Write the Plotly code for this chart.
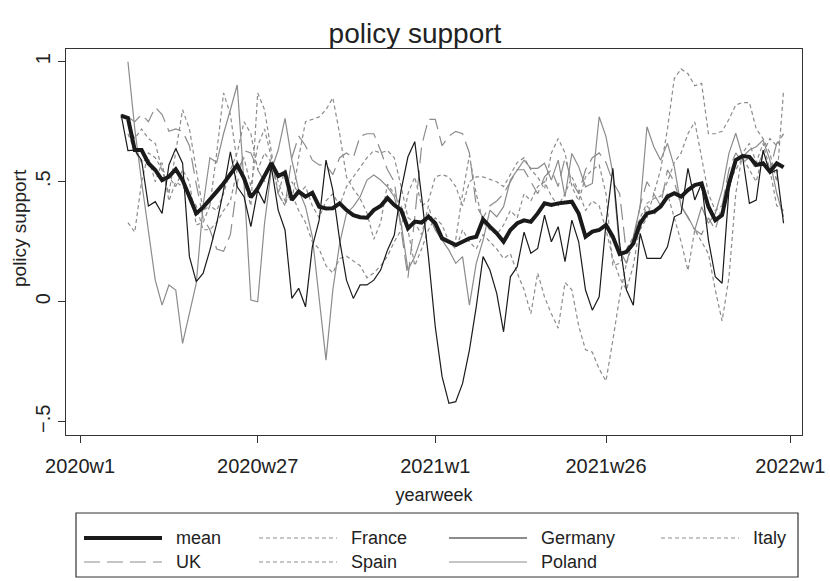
import plotly.graph_objects as go

# Stata weekly offsets from 2020w1 (6 = 2020w7 ... 103 = 2021w52)
week_index = list(range(6, 104))
x_tick_vals = [0, 26, 52, 77, 104]
x_tick_text = ["2020w1", "2020w27", "2021w1", "2021w26", "2022w1"]
y_tick_vals = [-0.5, 0, 0.5, 1]
y_tick_text = ["\u2212.5", "0", ".5", "1"]

mean = [0.775, 0.765, 0.632, 0.632, 0.577, 0.549, 0.507, 0.521, 0.552, 0.507,
        0.438, 0.368, 0.393, 0.424, 0.459, 0.493, 0.535, 0.570, 0.514, 0.435,
        0.472, 0.521, 0.577, 0.524, 0.538, 0.424, 0.459, 0.438, 0.454, 0.396,
        0.389, 0.390, 0.410, 0.382, 0.361, 0.352, 0.350, 0.382, 0.399, 0.432,
        0.403, 0.382, 0.306, 0.334, 0.330, 0.354, 0.327, 0.264, 0.250, 0.236,
        0.250, 0.264, 0.271, 0.343, 0.313, 0.285, 0.250, 0.299, 0.327, 0.339,
        0.333, 0.368, 0.410, 0.403, 0.410, 0.414, 0.417, 0.368, 0.271, 0.292,
        0.299, 0.320, 0.271, 0.199, 0.208, 0.243, 0.327, 0.368, 0.375, 0.396,
        0.438, 0.452, 0.438, 0.465, 0.486, 0.493, 0.396, 0.340, 0.361, 0.493,
        0.590, 0.607, 0.604, 0.570, 0.577, 0.542, 0.577, 0.560]

france = [None, 0.33, 0.29, 0.50, 0.62, 0.60, 0.55, 0.45, 0.62, 0.80,
          0.72, 0.55, 0.38, 0.40, 0.62, 0.87, 0.78, 0.58, 0.50, 0.40,
          0.87, 0.80, 0.62, 0.45, 0.55, 0.42, 0.60, 0.75, 0.76, 0.77,
          0.80, 0.85, 0.70, 0.52, 0.47, 0.43, 0.37, 0.26, 0.33, 0.49,
          0.45, 0.40, 0.30, 0.15, 0.22, 0.30, 0.35, 0.32, 0.25, 0.22,
          0.30, 0.25, 0.22, 0.28, 0.25, 0.22, 0.18, 0.20, 0.12, 0.05,
          -0.05, 0.12, 0.02, -0.05, -0.11, 0.08, 0.05, -0.10, -0.20, -0.21,
          -0.28, -0.33, -0.16, 0.02, 0.16, 0.25, 0.30, 0.35, 0.45, 0.55,
          0.72, 0.93, 0.97, 0.95, 0.90, 0.91, 0.70, 0.70, 0.71, 0.76,
          0.82, 0.83, 0.83, 0.72, 0.68, 0.62, 0.50, 0.88]

germany = [0.78, 0.63, 0.632, 0.590, 0.399, 0.417, 0.368, 0.570, 0.639, 0.577,
           0.188, 0.084, 0.118, 0.215, 0.327, 0.465, 0.625, 0.479, 0.438, 0.313,
           0.465, 0.410, 0.563, 0.382, 0.299, 0.014, 0.056, -0.021, 0.229, 0.340,
           0.590, 0.465, 0.257, 0.090, 0.014, 0.070, 0.070, 0.090, 0.132, 0.215,
           0.278, 0.465, 0.604, 0.667, 0.438, 0.188, -0.104, -0.312, -0.423, -0.416,
           -0.340, -0.201, -0.021, 0.188, 0.132, 0.035, -0.125, 0.104, 0.146, 0.290,
           0.202, 0.222, 0.361, 0.250, 0.313, 0.167, 0.340, 0.250, 0.049, -0.035,
           0.021, 0.327, 0.556, 0.243, 0.049, -0.014, 0.285, 0.181, 0.181, 0.181,
           0.229, 0.354, 0.368, 0.556, 0.424, 0.493, 0.257, 0.104, 0.077, 0.465,
           0.590, 0.604, 0.410, 0.424, 0.632, 0.535, 0.549, 0.327]

italy = [None, 0.75, 0.68, 0.72, 0.68, 0.66, 0.55, 0.52, 0.48, 0.55,
         0.50, 0.32, 0.33, 0.40, 0.38, 0.45, 0.55, 0.62, 0.75, 0.70,
         0.55, 0.62, 0.58, 0.50, 0.42, 0.45, 0.38, 0.33, 0.25, 0.22,
         0.15, 0.12, 0.18, 0.19, 0.17, 0.15, 0.10, 0.12, 0.15, 0.19,
         0.25, 0.30, 0.45, 0.52, 0.40, 0.42, 0.52, 0.53, 0.52, 0.48,
         0.40, 0.50, 0.52, 0.52, 0.51, 0.50, 0.48, 0.53, 0.58, 0.60,
         0.55, 0.52, 0.47, 0.62, 0.68, 0.62, 0.48, 0.42, 0.52, 0.55,
         0.57, 0.45, 0.15, 0.16, 0.22, 0.27, 0.35, 0.41, 0.43, 0.44,
         0.50, 0.58, 0.62, 0.70, 0.75, 0.60, 0.45, 0.38, 0.40, 0.50,
         0.55, 0.60, 0.55, 0.50, 0.62, 0.68, 0.65, 0.70]

uk = [None, 0.77, 0.75, 0.78, 0.75, 0.81, 0.78, 0.71, 0.72, 0.71,
      0.65, 0.49, 0.35, 0.30, 0.22, 0.21, 0.28, 0.49, 0.63, 0.62,
      0.55, 0.50, 0.60, 0.45, 0.40, 0.60, 0.69, 0.65, 0.59, 0.57,
      0.57, 0.53, 0.60, 0.62, 0.60, 0.69, 0.70, 0.70, 0.63, 0.55,
      0.50, 0.30, 0.10, 0.35, 0.65, 0.76, 0.76, 0.65, 0.69, 0.71,
      0.70, 0.62, 0.40, 0.35, 0.40, 0.42, 0.45, 0.50, 0.55, 0.55,
      0.50, 0.45, 0.52, 0.55, 0.48, 0.60, 0.50, 0.45, 0.55, 0.60,
      0.62, 0.58, 0.50, 0.45, 0.20, 0.25, 0.40, 0.50, 0.45, 0.40,
      0.55, 0.50, 0.40, 0.35, 0.30, 0.28, 0.35, 0.30, 0.40, 0.55,
      0.62, 0.58, 0.60, 0.55, 0.62, 0.55, 0.66, 0.70]

spain = [None, 0.70, 0.63, 0.58, 0.60, 0.50, 0.58, 0.42, 0.50, 0.48,
         0.44, 0.40, 0.30, 0.30, 0.33, 0.38, 0.42, 0.55, 0.60, 0.48,
         0.65, 0.72, 0.60, 0.45, 0.40, 0.50, 0.45, 0.48, 0.40, 0.35,
         0.42, 0.45, 0.40, 0.48, 0.52, 0.56, 0.60, 0.63, 0.62, 0.63,
         0.60, 0.48, 0.35, 0.33, 0.28, 0.40, 0.30, 0.27, 0.24, 0.26,
         0.45, 0.61, 0.45, 0.33, 0.30, 0.28, 0.32, 0.38, 0.35, 0.45,
         0.42, 0.48, 0.50, 0.44, 0.40, 0.45, 0.52, 0.46, 0.38, 0.42,
         0.40, 0.30, 0.18, 0.10, 0.05, 0.15, 0.32, 0.40, 0.36, 0.40,
         0.45, 0.35, 0.25, 0.13, 0.30, 0.25, 0.20, 0.05, -0.08, 0.10,
         0.45, 0.62, 0.66, 0.58, 0.66, 0.55, 0.40, 0.38]

poland = [None, 1.0, 0.72, 0.50, 0.30, 0.09, -0.014, 0.070, 0.049, -0.173,
          -0.048, 0.077, 0.40, 0.60, 0.58, 0.70, 0.80, 0.903, 0.493, 0.007,
          0.0, 0.327, 0.549, 0.632, 0.764, 0.590, 0.465, 0.396, 0.271, 0.007,
          -0.243, 0.049, 0.243, 0.368, 0.396, 0.438, 0.507, 0.528, 0.507, 0.479,
          0.438, 0.327, 0.132, 0.188, 0.271, 0.368, 0.299, 0.257, 0.215, 0.160,
          0.188, -0.014, 0.160, 0.257, 0.382, 0.354, 0.396, 0.507, 0.549, 0.590,
          0.556, 0.556, 0.577, 0.507, 0.590, 0.438, 0.618, 0.563, 0.479, 0.493,
          0.771, 0.688, 0.535, 0.215, 0.160, 0.271, 0.396, 0.729, 0.646, 0.590,
          0.660, 0.563, 0.396, 0.354, 0.299, 0.396, 0.327, 0.368, 0.465, 0.618,
          0.702, 0.604, 0.632, 0.646, 0.674, 0.590, 0.452, 0.354]

FONT = "Liberation Sans, Arial, Helvetica, sans-serif"
BLACK = "#1a1a1a"
GRAY = "#8c8c8c"
SHORT = "4px,3px"
LONG = "16px,7px"

styles = {
    "mean": dict(color=BLACK, width=4, dash="solid"),
    "France": dict(color=GRAY, width=1.2, dash=SHORT),
    "Germany": dict(color=BLACK, width=1.2, dash="solid"),
    "Italy": dict(color=GRAY, width=1.2, dash=SHORT),
    "UK": dict(color=GRAY, width=1.2, dash=LONG),
    "Spain": dict(color=GRAY, width=1.2, dash=SHORT),
    "Poland": dict(color=GRAY, width=1.2, dash="solid"),
}
series = {"mean": mean, "France": france, "Germany": germany, "Italy": italy,
          "UK": uk, "Spain": spain, "Poland": poland}

fig = go.Figure()
draw_order = ["France", "Italy", "UK", "Spain", "Poland", "Germany", "mean"]
for name in draw_order:
    fig.add_trace(go.Scatter(x=week_index, y=series[name], mode="lines", name=name,
                             line=styles[name], connectgaps=False, showlegend=False))

# plot area in pixels
W, H = 830, 581
L, R, T, B = 66, 802, 49, 435
def px(x):
    return (x - L) / (R - L)
def py(y):
    return (B - y) / (B - T)

shapes = []
annotations = []
# legend box
shapes.append(dict(type="rect", xref="paper", yref="paper", x0=px(76), x1=px(798),
                   y0=py(513), y1=py(577), line=dict(color="#333333", width=1.2),
                   fillcolor="white"))
legend_order = [["mean", "France", "Germany", "Italy"], ["UK", "Spain", "Poland"]]
col_x = [84, 259, 449, 661]
row_y = [538, 562]
KEY = 78
for r, row in enumerate(legend_order):
    for c, name in enumerate(row):
        st = styles[name]
        shapes.append(dict(type="line", xref="paper", yref="paper",
                           x0=px(col_x[c]), x1=px(col_x[c] + KEY),
                           y0=py(row_y[r]), y1=py(row_y[r]),
                           line=dict(color=st["color"], width=st["width"], dash=st["dash"])))
        annotations.append(dict(xref="paper", yref="paper", x=px(col_x[c] + KEY + 12),
                                y=py(row_y[r]), text=name, showarrow=False,
                                xanchor="left", yanchor="middle",
                                font=dict(family=FONT, size=18, color="#222222")))

# y-axis title (placed as in the reference, slightly above the plot centre)
annotations.append(dict(xref="paper", yref="paper", x=px(19), y=py(228),
                        text="policy support", textangle=-90, showarrow=False,
                        xanchor="center", yanchor="middle",
                        font=dict(family=FONT, size=19, color="#222222")))

fig.update_layout(
    width=W, height=H,
    margin=dict(l=L, r=W - R, t=T, b=H - B, autoexpand=False),
    paper_bgcolor="white", plot_bgcolor="white",
    title=dict(text="policy support", x=0.5, xanchor="center", y=1 - 33 / H,
               yanchor="middle", font=dict(family=FONT, size=28, color="#222222")),
    shapes=shapes, annotations=annotations,
    xaxis=dict(range=[-2.07, 105.7], tickvals=x_tick_vals, ticktext=x_tick_text,
               ticks="outside", ticklen=7, tickwidth=1.2, tickcolor="#333333",
               showgrid=False, zeroline=False, showline=True, linecolor="#333333",
               linewidth=1.3, mirror=True, ticklabelstandoff=6,
               tickfont=dict(family=FONT, size=20, color="#222222"),
               title=dict(text="yearweek", standoff=12,
                          font=dict(family=FONT, size=18, color="#222222"))),
    yaxis=dict(range=[-0.555, 1.053], tickvals=y_tick_vals, ticktext=y_tick_text,
               tickangle=-90, ticks="outside", ticklen=7, tickwidth=1.2,
               tickcolor="#333333", showgrid=False, zeroline=False, showline=True,
               linecolor="#333333", linewidth=1.3, mirror=True,
               tickfont=dict(family=FONT, size=20, color="#222222")),
)

fig.write_html("out.html", config={"displayModeBar": False},
               post_script="document.body.style.margin='0px';")
